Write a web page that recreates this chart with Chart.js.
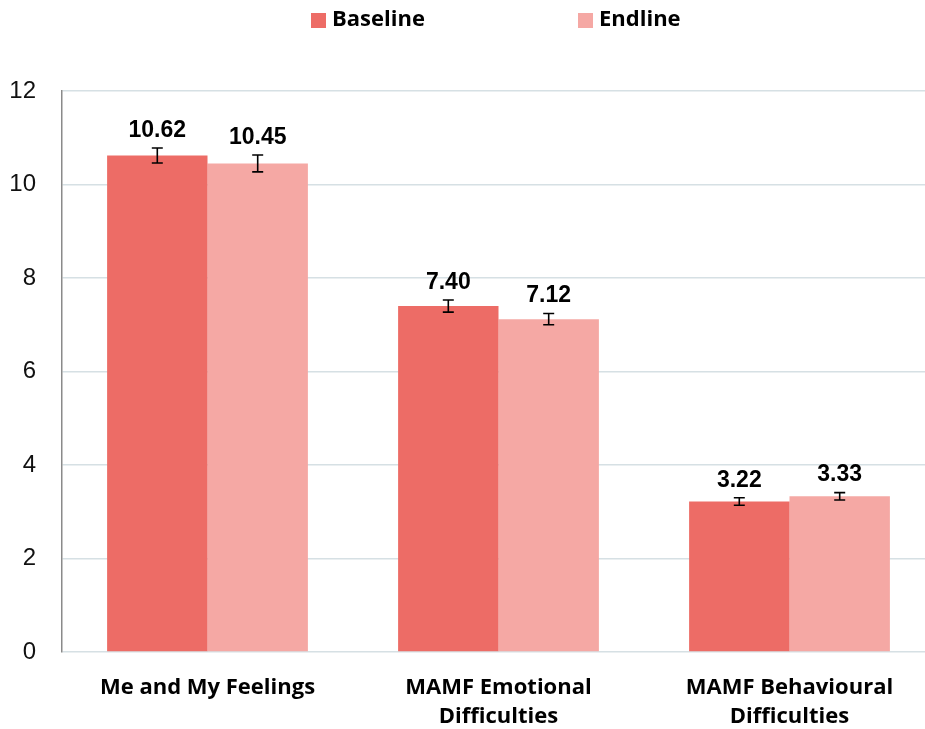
<!DOCTYPE html>
<html>
<head>
<meta charset="utf-8">
<script src="https://cdn.jsdelivr.net/npm/chart.js@4.4.0/dist/chart.umd.min.js"></script>
<style>
  html, body { margin: 0; padding: 0; background: #fff; }
  #wrap { width: 925px; height: 729px; overflow: hidden; }
</style>
</head>
<body>
<div id="wrap"><canvas id="chart" width="935" height="729"></canvas></div>
<script>
const categories = ['Me and My Feelings', ['MAMF Emotional', 'Difficulties'], ['MAMF Behavioural', 'Difficulties']];
const baseline = [10.62, 7.40, 3.22];
const endline = [10.45, 7.12, 3.33];
const baselineErr = [0.16, 0.13, 0.08];
const endlineErr = [0.18, 0.12, 0.08];

const baseColor = 'rgb(237,108,102)';
const endColor = 'rgb(245,168,164)';

// error bars + value labels drawn from the scales
const errorBars = {
  id: 'errorBars',
  afterDatasetsDraw(chart) {
    const ctx = chart.ctx;
    const y = chart.scales.y;
    chart.data.datasets.forEach((ds, di) => {
      const meta = chart.getDatasetMeta(di);
      meta.data.forEach((bar, i) => {
        const v = ds.data[i];
        const e = ds.errors[i];
        const top = y.getPixelForValue(v + e);
        const bot = y.getPixelForValue(v - e);
        ctx.save();
        ctx.strokeStyle = '#000';
        ctx.lineWidth = 1.6;
        ctx.beginPath();
        ctx.moveTo(bar.x, top); ctx.lineTo(bar.x, bot);
        ctx.moveTo(bar.x - 5.5, top); ctx.lineTo(bar.x + 5.5, top);
        ctx.moveTo(bar.x - 5.5, bot); ctx.lineTo(bar.x + 5.5, bot);
        ctx.stroke();
        ctx.fillStyle = '#000';
        ctx.font = 'bold 23px "Liberation Sans", Arial, sans-serif';
        ctx.textAlign = 'center';
        ctx.textBaseline = 'bottom';
        ctx.fillText(v.toFixed(2), bar.x, top - 6);
        ctx.restore();
      });
    });
  }
};

// legend drawn at top with wide spacing
const topLegend = {
  id: 'topLegend',
  afterDraw(chart) {
    const ctx = chart.ctx;
    const items = [[311, 0], [578, 1]];
    ctx.save();
    ctx.font = 'bold 22px "Open Sans", "Noto Sans", sans-serif';
    ctx.textBaseline = 'middle';
    items.forEach(([x, di]) => {
      const ds = chart.data.datasets[di];
      ctx.fillStyle = ds.backgroundColor;
      ctx.fillRect(x, 13, 15, 15);
      ctx.fillStyle = '#000';
      ctx.fillText(ds.label, x + 21, 20);
    });
    ctx.restore();
  }
};

new Chart(document.getElementById('chart'), {
  type: 'bar',
  data: {
    labels: categories,
    datasets: [
      { label: 'Baseline', data: baseline, errors: baselineErr, backgroundColor: baseColor },
      { label: 'Endline', data: endline, errors: endlineErr, backgroundColor: endColor }
    ]
  },
  options: {
    responsive: false,
    animation: false,
    layout: { padding: { top: 91, left: 8, right: 0, bottom: 0 } },
    datasets: { bar: { categoryPercentage: 0.69, barPercentage: 1.0 } },
    plugins: { legend: { display: false }, tooltip: { enabled: false } },
    scales: {
      x: {
        afterFit(scale) { scale.height = 77; },
        grid: { display: false },
        border: { display: false },
        ticks: {
          color: '#000',
          font: { family: '"Open Sans", "Noto Sans", sans-serif', size: 22, weight: 'bold', lineHeight: 1.32 },
          padding: 13,
          maxRotation: 0
        }
      },
      y: {
        min: 0, max: 12,
        afterFit(scale) { scale.width = 54; },
        ticks: {
          stepSize: 2,
          color: '#111',
          padding: 26,
          font: { family: '"Liberation Sans", Arial, sans-serif', size: 24 }
        },
        grid: { color: '#d6e0e4', lineWidth: 1.5, drawTicks: false },
        border: { color: '#8a8a8a', width: 1.5 }
      }
    }
  },
  plugins: [errorBars, topLegend]
});
</script>
</body>
</html>
